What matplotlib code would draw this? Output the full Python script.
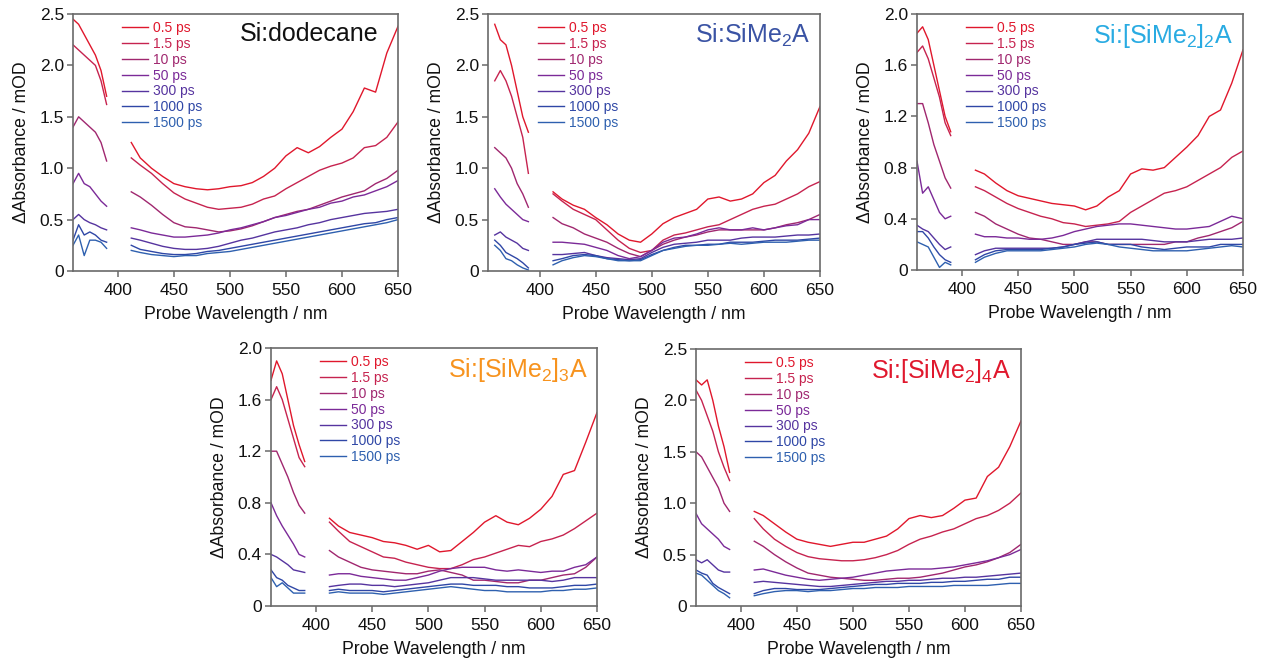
import matplotlib
matplotlib.use("Agg")
import matplotlib.pyplot as plt
from matplotlib.ticker import FuncFormatter

plt.rcParams['font.family'] = ['Liberation Sans', 'DejaVu Sans']
plt.rcParams['mathtext.default'] = 'regular'

# probe wavelengths (nm): the gap 390-412 nm is the pump scatter region
wl_short = [360, 365, 370, 375, 380, 385, 390]
wl_long = [412, 420, 430, 440, 450, 460, 470, 480, 490, 500, 510, 520, 530,
           540, 550, 560, 570, 580, 590, 600, 610, 620, 630, 640, 650]

delays = ['0.5 ps', '1.5 ps', '10 ps', '50 ps', '300 ps', '1000 ps', '1500 ps']
colors = ['#e0172c', '#c6234f', '#a0276f', '#7b2a98', '#56349f', '#2f47a6', '#2e60af']

# Si:dodecane
dodecane_short = [
    [2.45, 2.4, 2.3, 2.2, 2.1, 1.95, 1.7],
    [2.2, 2.15, 2.1, 2.05, 2.0, 1.85, 1.62],
    [1.4, 1.5, 1.45, 1.4, 1.35, 1.25, 1.07],
    [0.85, 0.95, 0.85, 0.82, 0.75, 0.68, 0.63],
    [0.5, 0.55, 0.5, 0.47, 0.45, 0.42, 0.4],
    [0.3, 0.45, 0.35, 0.38, 0.35, 0.3, 0.28],
    [0.25, 0.35, 0.15, 0.3, 0.3, 0.28, 0.22],
]
dodecane_long = [
    [1.25, 1.1, 1.0, 0.92, 0.85, 0.82, 0.8, 0.79, 0.8, 0.82, 0.83, 0.86, 0.92,
     1.0, 1.12, 1.2, 1.15, 1.21, 1.3, 1.38, 1.55, 1.78, 1.74, 2.12, 2.38],
    [1.1, 1.03, 0.95, 0.85, 0.76, 0.7, 0.66, 0.62, 0.6, 0.61, 0.62, 0.65, 0.7,
     0.73, 0.8, 0.86, 0.92, 0.98, 1.02, 1.05, 1.1, 1.2, 1.22, 1.3, 1.45],
    [0.77, 0.72, 0.64, 0.55, 0.47, 0.43, 0.42, 0.4, 0.38, 0.39, 0.41, 0.44, 0.48,
     0.52, 0.55, 0.58, 0.6, 0.64, 0.68, 0.72, 0.75, 0.78, 0.85, 0.9, 0.98],
    [0.42, 0.4, 0.37, 0.35, 0.33, 0.33, 0.34, 0.35, 0.37, 0.4, 0.42, 0.45, 0.48,
     0.52, 0.54, 0.57, 0.6, 0.62, 0.66, 0.68, 0.72, 0.74, 0.78, 0.82, 0.88],
    [0.32, 0.3, 0.27, 0.24, 0.22, 0.21, 0.21, 0.22, 0.24, 0.27, 0.3, 0.32, 0.35,
     0.38, 0.4, 0.42, 0.45, 0.47, 0.5, 0.52, 0.54, 0.56, 0.57, 0.58, 0.6],
    [0.25, 0.21, 0.19, 0.17, 0.16, 0.16, 0.17, 0.19, 0.2, 0.22, 0.24, 0.26, 0.28,
     0.3, 0.32, 0.34, 0.36, 0.38, 0.4, 0.42, 0.44, 0.46, 0.47, 0.5, 0.52],
    [0.2, 0.18, 0.16, 0.15, 0.14, 0.15, 0.15, 0.17, 0.18, 0.19, 0.21, 0.23, 0.25,
     0.27, 0.29, 0.31, 0.33, 0.35, 0.37, 0.39, 0.41, 0.43, 0.45, 0.47, 0.5],
]

# Si:SiMe2A
sime2a_short = [
    [2.4, 2.25, 2.2, 2.0, 1.75, 1.5, 1.35],
    [1.85, 1.95, 1.85, 1.7, 1.5, 1.3, 0.95],
    [1.2, 1.15, 1.1, 1.0, 0.85, 0.75, 0.62],
    [0.8, 0.72, 0.65, 0.6, 0.55, 0.5, 0.48],
    [0.35, 0.38, 0.33, 0.3, 0.27, 0.22, 0.2],
    [0.3, 0.25, 0.18, 0.15, 0.12, 0.08, 0.03],
    [0.25, 0.2, 0.12, 0.1, 0.06, 0.03, 0.01],
]
sime2a_long = [
    [0.77, 0.7, 0.64, 0.6, 0.52, 0.45, 0.36, 0.3, 0.28, 0.36, 0.46, 0.52, 0.56,
     0.6, 0.7, 0.72, 0.68, 0.7, 0.75, 0.86, 0.93, 1.07, 1.18, 1.34, 1.6],
    [0.75, 0.68, 0.6, 0.55, 0.5, 0.4, 0.3, 0.22, 0.18, 0.2, 0.3, 0.35, 0.37,
     0.4, 0.43, 0.45, 0.5, 0.55, 0.6, 0.63, 0.65, 0.7, 0.75, 0.82, 0.87],
    [0.52, 0.46, 0.42, 0.36, 0.32, 0.28, 0.22, 0.17, 0.14, 0.2, 0.26, 0.3, 0.33,
     0.35, 0.38, 0.4, 0.4, 0.4, 0.4, 0.4, 0.42, 0.45, 0.47, 0.5, 0.55],
    [0.28, 0.28, 0.27, 0.26, 0.23, 0.2, 0.15, 0.12, 0.14, 0.2, 0.28, 0.32, 0.33,
     0.36, 0.4, 0.42, 0.4, 0.4, 0.42, 0.4, 0.42, 0.44, 0.45, 0.5, 0.5],
    [0.16, 0.16, 0.17, 0.18, 0.15, 0.13, 0.12, 0.11, 0.12, 0.18, 0.23, 0.26, 0.27,
     0.28, 0.3, 0.3, 0.3, 0.32, 0.33, 0.33, 0.33, 0.34, 0.35, 0.35, 0.36],
    [0.1, 0.12, 0.15, 0.16, 0.15, 0.12, 0.11, 0.1, 0.11, 0.16, 0.2, 0.23, 0.25,
     0.25, 0.26, 0.26, 0.28, 0.28, 0.28, 0.29, 0.3, 0.3, 0.3, 0.31, 0.32],
    [0.06, 0.1, 0.13, 0.15, 0.14, 0.12, 0.1, 0.1, 0.1, 0.15, 0.2, 0.22, 0.24,
     0.25, 0.25, 0.26, 0.27, 0.26, 0.27, 0.28, 0.28, 0.28, 0.29, 0.3, 0.3],
]

# Si:[SiMe2]2A
sime2_2a_short = [
    [1.85, 1.9, 1.8, 1.6, 1.4, 1.2, 1.08],
    [1.7, 1.75, 1.65, 1.5, 1.35, 1.15, 1.05],
    [1.3, 1.3, 1.15, 0.98, 0.85, 0.72, 0.64],
    [0.85, 0.6, 0.65, 0.55, 0.45, 0.4, 0.42],
    [0.35, 0.32, 0.3, 0.25, 0.2, 0.16, 0.18],
    [0.3, 0.3, 0.25, 0.18, 0.12, 0.08, 0.06],
    [0.22, 0.2, 0.18, 0.1, 0.02, 0.06, 0.04],
]
sime2_2a_long = [
    [0.78, 0.75, 0.68, 0.62, 0.58, 0.56, 0.54, 0.52, 0.51, 0.5, 0.47, 0.5, 0.57,
     0.62, 0.75, 0.79, 0.78, 0.8, 0.88, 0.96, 1.05, 1.2, 1.25, 1.46, 1.72],
    [0.65, 0.62, 0.57, 0.52, 0.48, 0.45, 0.42, 0.4, 0.37, 0.36, 0.34, 0.35, 0.36,
     0.38, 0.45, 0.5, 0.55, 0.6, 0.62, 0.65, 0.7, 0.75, 0.8, 0.88, 0.93],
    [0.45, 0.42, 0.36, 0.32, 0.28, 0.25, 0.24, 0.22, 0.2, 0.2, 0.22, 0.22, 0.2,
     0.2, 0.2, 0.2, 0.2, 0.2, 0.22, 0.22, 0.25, 0.27, 0.3, 0.33, 0.38],
    [0.28, 0.26, 0.26, 0.25, 0.25, 0.24, 0.24, 0.25, 0.27, 0.3, 0.32, 0.34, 0.35,
     0.36, 0.36, 0.35, 0.34, 0.33, 0.32, 0.32, 0.33, 0.34, 0.38, 0.42, 0.4],
    [0.12, 0.15, 0.17, 0.17, 0.17, 0.17, 0.17, 0.17, 0.18, 0.2, 0.22, 0.24, 0.24,
     0.24, 0.24, 0.24, 0.23, 0.22, 0.22, 0.22, 0.23, 0.24, 0.24, 0.24, 0.25],
    [0.08, 0.12, 0.15, 0.16, 0.16, 0.16, 0.16, 0.17, 0.18, 0.2, 0.21, 0.22, 0.2,
     0.2, 0.2, 0.18, 0.17, 0.16, 0.17, 0.18, 0.18, 0.18, 0.2, 0.2, 0.2],
    [0.06, 0.1, 0.13, 0.15, 0.15, 0.15, 0.15, 0.16, 0.17, 0.18, 0.2, 0.21, 0.2,
     0.18, 0.17, 0.16, 0.15, 0.15, 0.15, 0.15, 0.16, 0.17, 0.18, 0.19, 0.18],
]

# Si:[SiMe2]3A
sime2_3a_short = [
    [1.75, 1.9, 1.8, 1.6, 1.4, 1.25, 1.12],
    [1.6, 1.7, 1.6, 1.45, 1.3, 1.15, 1.08],
    [1.2, 1.2, 1.1, 1.0, 0.88, 0.78, 0.72],
    [0.8, 0.7, 0.62, 0.55, 0.48, 0.4, 0.38],
    [0.4, 0.38, 0.35, 0.32, 0.28, 0.27, 0.26],
    [0.28, 0.22, 0.2, 0.16, 0.14, 0.12, 0.12],
    [0.22, 0.15, 0.18, 0.14, 0.1, 0.1, 0.1],
]
sime2_3a_long = [
    [0.68, 0.62, 0.57, 0.55, 0.53, 0.5, 0.49, 0.47, 0.44, 0.47, 0.42, 0.43, 0.5,
     0.57, 0.65, 0.7, 0.65, 0.63, 0.68, 0.75, 0.85, 1.02, 1.05, 1.27, 1.5],
    [0.65, 0.58, 0.5, 0.46, 0.42, 0.38, 0.37, 0.34, 0.32, 0.3, 0.29, 0.29, 0.32,
     0.36, 0.38, 0.41, 0.44, 0.47, 0.46, 0.5, 0.52, 0.55, 0.6, 0.66, 0.72],
    [0.43, 0.38, 0.34, 0.3, 0.28, 0.27, 0.26, 0.25, 0.25, 0.27, 0.28, 0.26, 0.24,
     0.2, 0.2, 0.19, 0.18, 0.18, 0.2, 0.2, 0.22, 0.24, 0.25, 0.3, 0.38],
    [0.24, 0.25, 0.25, 0.23, 0.22, 0.21, 0.2, 0.2, 0.22, 0.24, 0.27, 0.29, 0.3,
     0.3, 0.3, 0.28, 0.27, 0.28, 0.27, 0.26, 0.27, 0.27, 0.3, 0.32, 0.38],
    [0.15, 0.16, 0.17, 0.17, 0.16, 0.16, 0.15, 0.16, 0.17, 0.18, 0.2, 0.22, 0.22,
     0.22, 0.21, 0.2, 0.2, 0.2, 0.2, 0.2, 0.19, 0.2, 0.22, 0.22, 0.22],
    [0.12, 0.13, 0.12, 0.12, 0.12, 0.11, 0.12, 0.13, 0.14, 0.15, 0.16, 0.17, 0.17,
     0.16, 0.16, 0.16, 0.15, 0.15, 0.14, 0.14, 0.14, 0.15, 0.16, 0.16, 0.17],
    [0.1, 0.11, 0.1, 0.1, 0.1, 0.09, 0.1, 0.11, 0.12, 0.13, 0.14, 0.15, 0.14,
     0.13, 0.12, 0.12, 0.11, 0.11, 0.11, 0.11, 0.12, 0.12, 0.13, 0.13, 0.14],
]

# Si:[SiMe2]4A
sime2_4a_short = [
    [2.2, 2.15, 2.2, 2.0, 1.75, 1.55, 1.3],
    [2.1, 2.0, 1.85, 1.7, 1.5, 1.35, 1.22],
    [1.5, 1.45, 1.35, 1.25, 1.15, 1.0, 0.92],
    [0.9, 0.8, 0.75, 0.7, 0.65, 0.58, 0.55],
    [0.45, 0.42, 0.45, 0.4, 0.35, 0.33, 0.33],
    [0.35, 0.32, 0.3, 0.22, 0.18, 0.15, 0.12],
    [0.32, 0.3, 0.25, 0.2, 0.15, 0.12, 0.08],
]
sime2_4a_long = [
    [0.92, 0.88, 0.8, 0.72, 0.65, 0.62, 0.6, 0.58, 0.6, 0.62, 0.62, 0.65, 0.68,
     0.75, 0.85, 0.88, 0.86, 0.88, 0.95, 1.03, 1.05, 1.26, 1.35, 1.55, 1.8],
    [0.85, 0.75, 0.65, 0.58, 0.52, 0.48, 0.46, 0.45, 0.44, 0.44, 0.45, 0.47, 0.5,
     0.54, 0.6, 0.65, 0.68, 0.72, 0.75, 0.8, 0.85, 0.88, 0.93, 1.0, 1.1],
    [0.63, 0.58, 0.5, 0.43, 0.37, 0.32, 0.3, 0.28, 0.27, 0.26, 0.25, 0.25, 0.26,
     0.27, 0.27, 0.28, 0.3, 0.32, 0.35, 0.38, 0.4, 0.43, 0.47, 0.52, 0.6],
    [0.35, 0.36, 0.33, 0.3, 0.28, 0.26, 0.25, 0.26, 0.27, 0.28, 0.3, 0.32, 0.34,
     0.35, 0.36, 0.36, 0.36, 0.37, 0.38, 0.4, 0.42, 0.44, 0.47, 0.5, 0.55],
    [0.23, 0.24, 0.23, 0.22, 0.21, 0.2, 0.19, 0.19, 0.2, 0.21, 0.22, 0.23, 0.24,
     0.24, 0.25, 0.25, 0.26, 0.27, 0.27, 0.28, 0.28, 0.29, 0.3, 0.31, 0.32],
    [0.12, 0.15, 0.17, 0.17, 0.16, 0.16, 0.16, 0.17, 0.18, 0.19, 0.2, 0.21, 0.21,
     0.22, 0.22, 0.22, 0.23, 0.23, 0.24, 0.24, 0.25, 0.26, 0.26, 0.28, 0.28],
    [0.1, 0.12, 0.14, 0.15, 0.15, 0.14, 0.15, 0.15, 0.16, 0.17, 0.17, 0.18, 0.18,
     0.18, 0.19, 0.19, 0.19, 0.19, 0.2, 0.2, 0.2, 0.2, 0.21, 0.22, 0.22],
]

titles = ['Si:dodecane', 'Si:SiMe$_2$A', 'Si:[SiMe$_2$]$_2$A',
          'Si:[SiMe$_2$]$_3$A', 'Si:[SiMe$_2$]$_4$A']
title_colors = ['#111111', '#3a53a4', '#29abe2', '#f7931e', '#e0182d']
title_x = [0.94, 0.97, 0.97, 0.972, 0.969]
ymax = [2.5, 2.5, 2.0, 2.0, 2.5]
yticks = [[0, 0.5, 1.0, 1.5, 2.0, 2.5], [0, 0.5, 1.0, 1.5, 2.0, 2.5],
          [0, 0.4, 0.8, 1.2, 1.6, 2.0], [0, 0.4, 0.8, 1.2, 1.6, 2.0],
          [0, 0.5, 1.0, 1.5, 2.0, 2.5]]
xmin = [360, 354, 360, 360, 360]
shorts = [dodecane_short, sime2a_short, sime2_2a_short, sime2_3a_short, sime2_4a_short]
longs = [dodecane_long, sime2a_long, sime2_2a_long, sime2_3a_long, sime2_4a_long]

W, H = 1266, 661
# axes boxes in pixels: left, top, right, bottom
boxes = [(73, 14, 398, 271), (488, 14, 820, 271), (917, 14, 1243, 270),
         (271, 348, 597, 606), (696, 349, 1021, 606)]

fig = plt.figure(figsize=(W / 100, H / 100), dpi=100)
spine_col = '#6a6a6a'

for i in range(5):
    l, t, r, b = boxes[i]
    ax = fig.add_axes([l / W, 1 - b / H, (r - l) / W, (b - t) / H])
    for k in range(7):
        ax.plot(wl_short, shorts[i][k], color=colors[k], lw=1.0)
        ax.plot(wl_long, longs[i][k], color=colors[k], lw=1.0, label=delays[k])
    ax.set_xlim(xmin[i], 650)
    ax.set_ylim(0, ymax[i])
    ax.set_xticks([400, 450, 500, 550, 600, 650])
    ax.set_yticks(yticks[i])
    ax.yaxis.set_major_formatter(FuncFormatter(lambda v, p: '0' if v == 0 else f'{v:.1f}'))
    for s in ax.spines.values():
        s.set_color(spine_col)
        s.set_linewidth(1.2)
    ax.tick_params(direction='out', length=4, width=1.1, color=spine_col,
                   labelsize=12.5, labelcolor='#111111')
    ax.tick_params(axis='x', pad=4.5)
    ax.tick_params(axis='y', pad=2.5)
    ax.set_xlabel('Probe Wavelength / nm', fontsize=12.7, labelpad=6, color='#111111')
    ax.set_ylabel('ΔAbsorbance / mOD', fontsize=12.7, labelpad=7, color='#111111')
    ax.legend(loc='upper left', bbox_to_anchor=(0.117, 1.015), frameon=False,
              fontsize=10, handlelength=1.85, handletextpad=0.35,
              labelspacing=0.13, borderpad=0.3, labelcolor='linecolor')
    ax.text(title_x[i], 0.968, titles[i], transform=ax.transAxes, ha='right', va='top',
            fontsize=18, color=title_colors[i])

fig.savefig('out.png', dpi=100)
